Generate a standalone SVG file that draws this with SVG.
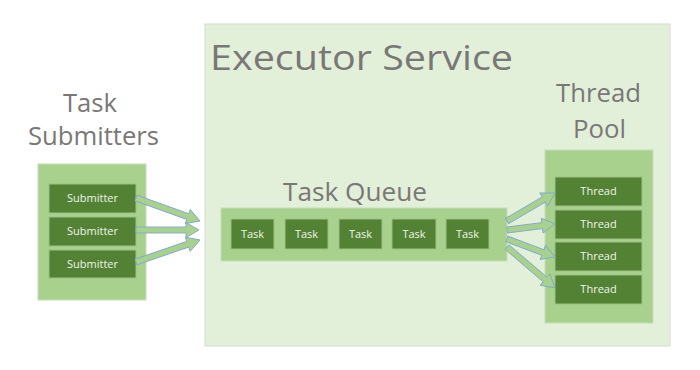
<svg xmlns="http://www.w3.org/2000/svg" width="700" height="370" viewBox="0 0 700 370">
<defs>
<style>
.title{font-family:"Open Sans","Liberation Sans",Arial,sans-serif;fill:#7a7777}
.cont{fill:#a9d18e;stroke:#c8dcb8;stroke-width:1}
.box{fill:#548235;stroke:#9cc283;stroke-width:1}
.lbl{font-family:"Open Sans","Liberation Sans",Arial,sans-serif;font-size:11px;fill:#eef4ea;text-anchor:middle}
.arr{fill:#a9d18e;stroke:#7fa8cf;stroke-width:0.9;stroke-linejoin:miter}
</style>
</defs>
<rect width="700" height="370" fill="#ffffff"/>
<g id="executor-service">
<rect x="205" y="24" width="465" height="322" fill="#e2f0d9" stroke="#d4dccf" stroke-width="1"/>
<text class="title" x="210" y="70" font-size="35" textLength="303" lengthAdjust="spacingAndGlyphs">Executor Service</text>
</g>
<g id="task-submitters">
<text class="title" x="63" y="112" font-size="25" textLength="54" lengthAdjust="spacingAndGlyphs">Task</text>
<text class="title" x="28" y="145" font-size="25" textLength="131" lengthAdjust="spacingAndGlyphs">Submitters</text>
<rect class="cont" x="38" y="164" width="108" height="136"/>
<rect class="box" x="49" y="184" width="87" height="29"/>
<text class="lbl" x="92.5" y="202">Submitter</text>
<rect class="box" x="49" y="217" width="87" height="29"/>
<text class="lbl" x="92.5" y="235">Submitter</text>
<rect class="box" x="49" y="250" width="87" height="28"/>
<text class="lbl" x="92.5" y="268">Submitter</text>
</g>
<g id="task-queue">
<text class="title" x="283" y="201" font-size="25" textLength="144" lengthAdjust="spacingAndGlyphs">Task Queue</text>
<rect class="cont" x="221" y="208" width="286" height="53"/>
<rect class="box" x="231" y="219" width="43" height="30"/>
<text class="lbl" x="252.5" y="238">Task</text>
<rect class="box" x="285" y="219" width="43" height="30"/>
<text class="lbl" x="306.5" y="238">Task</text>
<rect class="box" x="339" y="219" width="43" height="30"/>
<text class="lbl" x="360.5" y="238">Task</text>
<rect class="box" x="392" y="219" width="44" height="30"/>
<text class="lbl" x="414" y="238">Task</text>
<rect class="box" x="446" y="219" width="43" height="30"/>
<text class="lbl" x="467.5" y="238">Task</text>
</g>
<g id="thread-pool">
<text class="title" x="556" y="102" font-size="25" textLength="85" lengthAdjust="spacingAndGlyphs">Thread</text>
<text class="title" x="573" y="138" font-size="25" textLength="53" lengthAdjust="spacingAndGlyphs">Pool</text>
<rect class="cont" x="545" y="150" width="108" height="173"/>
<rect class="box" x="555" y="177" width="87" height="29"/>
<text class="lbl" x="598.5" y="195">Thread</text>
<rect class="box" x="555" y="210" width="87" height="29"/>
<text class="lbl" x="598.5" y="228">Thread</text>
<rect class="box" x="555" y="242" width="87" height="29"/>
<text class="lbl" x="598.5" y="260">Thread</text>
<rect class="box" x="555" y="275" width="87" height="29"/>
<text class="lbl" x="598.5" y="293">Thread</text>
</g>
<g id="connectors">
<polygon class="arr" transform="translate(136,198) rotate(19.77)" points="0,-3 55,-3 55,-7.5 68,0 55,7.5 55,3 0,3"/>
<polygon class="arr" transform="translate(136,230)" points="0,-3 50,-3 50,-7.5 63,0 50,7.5 50,3 0,3"/>
<polygon class="arr" transform="translate(136,262) rotate(-18.97)" points="0,-3 54.7,-3 54.7,-7.5 67.7,0 54.7,7.5 54.7,3 0,3"/>
<polygon class="arr" transform="translate(507,221) rotate(-30.26)" points="0,-3 42.6,-3 42.6,-7.5 55.6,0 42.6,7.5 42.6,3 0,3"/>
<polygon class="arr" transform="translate(507,230) rotate(-7.13)" points="0,-3 35.4,-3 35.4,-7.5 48.4,0 35.4,7.5 35.4,3 0,3"/>
<polygon class="arr" transform="translate(507,239) rotate(20.56)" points="0,-3 38.3,-3 38.3,-7.5 51.3,0 38.3,7.5 38.3,3 0,3"/>
<polygon class="arr" transform="translate(507,247) rotate(40.5)" points="0,-3 50.1,-3 50.1,-7.5 63.1,0 50.1,7.5 50.1,3 0,3"/>
</g>
</svg>
